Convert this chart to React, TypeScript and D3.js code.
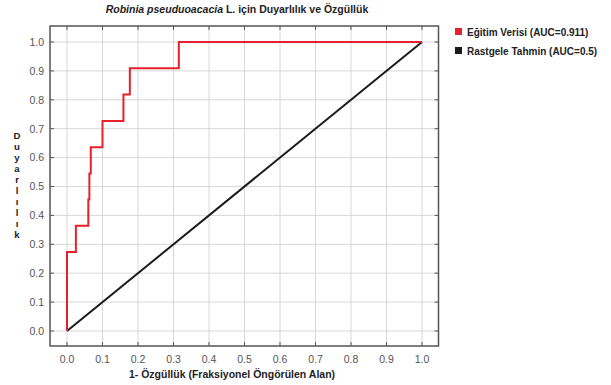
import React from "react";
import * as d3 from "d3";

const fpr = [0, 0, 0.025, 0.06, 0.063, 0.067, 0.1, 0.159, 0.177, 0.315, 1.0];
const tpr = [0, 0.273, 0.364, 0.455, 0.545, 0.636, 0.727, 0.818, 0.909, 1.0, 1.0];
const diagX = [0, 1];
const diagY = [0, 1];
const ticks = [0, 0.1, 0.2, 0.3, 0.4, 0.5, 0.6, 0.7, 0.8, 0.9, 1.0];
const seriesNames = ["Eğitim Verisi (AUC=0.911)", "Rastgele Tahmin (AUC=0.5)"];
const seriesColors = ["#e8202e", "#1a1a1a"];
const yTitle = "Duyarlılık";
const xTitle = "1- Özgüllük (Fraksiyonel Öngörülen Alan)";

export default function App() {
  const W = 611, H = 385;
  const frame = { l: 50, t: 26, r: 438.5, b: 346 };
  const x = d3.scaleLinear().domain([0, 1]).range([67, 422]);
  const y = d3.scaleLinear().domain([0, 1]).range([331, 42]);
  const roc = d3.line<number>().x((_, i) => x(fpr[i])).y((d) => y(d)).curve(d3.curveStepAfter);
  const diag = d3.line<number>().x((_, i) => x(diagX[i])).y((d) => y(d));
  const font = "'Liberation Sans', Arial, sans-serif";
  return (
    <svg width={W} height={H} style={{ position: "absolute", left: 0, top: 0, background: "#fff" }} fontFamily={font}>
      <rect x={0} y={0} width={W} height={H} fill="#fff" />
      {/* title */}
      <text x={237} y={13} textAnchor="middle" fontSize={10.5} fontWeight="bold" fill="#222">
        <tspan fontStyle="italic">Robinia pseuduoacacia</tspan>
        <tspan> L. için Duyarlılık ve Özgüllük</tspan>
      </text>
      {/* grid */}
      {ticks.map((t) => (
        <line key={"gx" + t} x1={x(t)} x2={x(t)} y1={frame.t} y2={frame.b} stroke="#d8d8d8" strokeWidth={1} />
      ))}
      {ticks.map((t) => (
        <line key={"gy" + t} x1={frame.l} x2={frame.r} y1={y(t)} y2={y(t)} stroke="#d8d8d8" strokeWidth={1} />
      ))}
      {/* tick marks inward */}
      {ticks.map((t) => (
        <g key={"tk" + t} stroke="#555" strokeWidth={1}>
          <line x1={x(t)} x2={x(t)} y1={frame.b} y2={frame.b - 4} />
          <line x1={x(t)} x2={x(t)} y1={frame.t} y2={frame.t + 4} />
          <line x1={frame.l} x2={frame.l + 4} y1={y(t)} y2={y(t)} />
          <line x1={frame.r} x2={frame.r - 4} y1={y(t)} y2={y(t)} />
        </g>
      ))}
      {/* series */}
      <path d={diag(diagY) || ""} fill="none" stroke={seriesColors[1]} strokeWidth={2} />
      <path d={roc(tpr) || ""} fill="none" stroke={seriesColors[0]} strokeWidth={2} />
      {/* frame */}
      <rect x={frame.l} y={frame.t} width={frame.r - frame.l} height={frame.b - frame.t} fill="none" stroke="#555" strokeWidth={1.5} />
      {/* tick labels */}
      {ticks.map((t) => (
        <text key={"xl" + t} x={x(t)} y={363} textAnchor="middle" fontSize={10.5} fill="#555">
          {t.toFixed(1)}
        </text>
      ))}
      {ticks.map((t) => (
        <text key={"yl" + t} x={44} y={y(t) + 3.8} textAnchor="end" fontSize={10.5} fill="#555">
          {t.toFixed(1)}
        </text>
      ))}
      {/* axis titles */}
      <text x={232} y={378} textAnchor="middle" fontSize={10.5} fontWeight="bold" fill="#222">
        {xTitle}
      </text>
      <text
        x={17}
        y={130}
        fontSize={9.6}
        fontWeight="bold"
        fill="#222"
        style={{ writingMode: "vertical-rl", textOrientation: "upright" } as any}
      >
        {yTitle}
      </text>
      {/* legend */}
      {seriesNames.map((n, i) => (
        <g key={n}>
          <rect x={455} y={28 + i * 19} width={7} height={7} fill={seriesColors[i]} />
          <text x={467} y={35.5 + i * 19} fontSize={10} fontWeight="bold" fill="#222">
            {n}
          </text>
        </g>
      ))}
    </svg>
  );
}
